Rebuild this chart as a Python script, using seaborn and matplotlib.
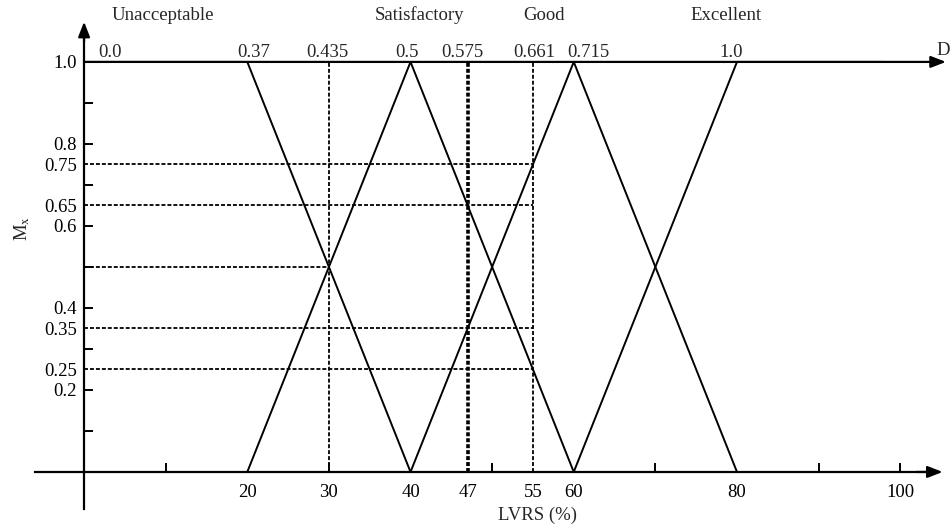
import matplotlib
matplotlib.use("Agg")
import matplotlib.pyplot as plt
import seaborn as sns
import pandas as pd

# ---------------- data ----------------
set_names = ["Unacceptable", "Satisfactory", "Good", "Excellent"]
unacceptable_x = [0, 20, 40]
unacceptable_m = [1, 1, 0]
satisfactory_x = [20, 40, 60]
satisfactory_m = [0, 1, 0]
good_x = [40, 60, 80]
good_m = [0, 1, 0]
excellent_x = [60, 80, 98]
excellent_m = [0, 1, 1]

cut_x = [30, 47, 55]                     # vertical dashed cuts (LVRS %)
level_m = [0.75, 0.65, 0.5, 0.35, 0.25]  # horizontal dashed membership levels
level_end_x = [55, 55, 30, 55, 55]

x_tick_labels = [20, 30, 40, 47, 55, 60, 80, 100]
x_minor_ticks = [10, 30, 50, 70, 90, 100]
y_tick_labels = [0.2, 0.25, 0.35, 0.4, 0.6, 0.65, 0.75, 0.8, 1.0]
y_minor_ticks = [0.1, 0.2, 0.3, 0.4, 0.5, 0.6, 0.7, 0.8, 0.9, 1.0]

d_labels = ["0.0", "0.37", "0.435", "0.5", "0.575", "0.661", "0.715", "1.0"]
d_label_pos = [3.2, 20.8, 29.8, 39.6, 46.3, 55.2, 61.8, 79.3]
set_label_pos = [9.7, 41.1, 56.4, 78.6]

# ---------------- style ----------------
sns.set_style("white")
plt.rcParams["font.family"] = ["Liberation Serif", "DejaVu Serif"]
plt.rcParams["mathtext.fontset"] = "stix"
FS = 13.5

fig = plt.figure(figsize=(9.5, 5.31), dpi=100)
ax = fig.add_axes([0, 0, 1, 1])
ax.set_xlim(-10.3, 106.1)
ax.set_ylim(-0.144, 1.151)

rows = []
for name, xs, ms in zip(set_names,
                        [unacceptable_x, satisfactory_x, good_x, excellent_x],
                        [unacceptable_m, satisfactory_m, good_m, excellent_m]):
    for xv, mv in zip(xs, ms):
        rows.append({"set": name, "LVRS": xv, "M": mv})
df = pd.DataFrame(rows)

sns.lineplot(data=df, x="LVRS", y="M", units="set", estimator=None,
             color="black", lw=1.4, sort=False, ax=ax, legend=False)

# dashed helper lines
for xv in cut_x:
    lw = 2.6 if xv == 47 else 1.3
    ax.plot([xv, xv], [0, 1], color="black", lw=lw,
            dashes=(2.2 * 1.3 / lw, 1.1 * 1.3 / lw))
for mv, xe in zip(level_m, level_end_x):
    ax.plot([0, xe], [mv, mv], color="black", lw=1.3, dashes=(2.2, 1.1))

# axes (spines through origin)
for s in ["top", "right"]:
    ax.spines[s].set_visible(False)
ax.spines["left"].set_position(("data", 0))
ax.spines["bottom"].set_position(("data", 0))
ax.spines["left"].set_bounds(-0.09, 1.07)
ax.spines["bottom"].set_bounds(-6, 103)
for s in ["left", "bottom"]:
    ax.spines[s].set_linewidth(1.6)
    ax.spines[s].set_color("black")

arrow = dict(arrowstyle="-|>,head_length=0.9,head_width=0.35",
             color="black", lw=1.6, shrinkA=0, shrinkB=0)
ax.annotate("", xy=(105.2, 0), xytext=(102, 0), arrowprops=arrow)
ax.annotate("", xy=(0, 1.098), xytext=(0, 1.05), arrowprops=arrow)
ax.annotate("", xy=(105.6, 1), xytext=(0, 1), arrowprops=arrow)

# ticks
ax.xaxis.remove_overlapping_locs = False
ax.yaxis.remove_overlapping_locs = False
ax.set_xticks(x_tick_labels)
ax.set_xticklabels([str(v) for v in x_tick_labels])
ax.set_xticks(x_minor_ticks, minor=True)
ax.set_yticks(y_tick_labels)
ax.set_yticklabels([f"{v:g}" if v != 1.0 else "1.0" for v in y_tick_labels])
ax.set_yticks(y_minor_ticks, minor=True)
ax.tick_params(axis="x", which="both", bottom=True, top=False)
ax.tick_params(axis="y", which="both", left=True, right=False)
ax.tick_params(axis="both", which="major", length=0, labelsize=FS,
               colors="black")
ax.tick_params(axis="x", which="major", pad=8.5)
ax.tick_params(axis="y", which="major", pad=5)
ax.tick_params(axis="both", which="minor", direction="in", length=6.5,
               width=1.4, colors="black")
ax.set_xlabel("")
ax.set_ylabel("")

# top D scale labels
for lab, xp in zip(d_labels, d_label_pos):
    ax.text(xp, 1.012, lab, ha="center", va="baseline", fontsize=FS)
ax.text(104.4, 1.016, "D", ha="left", va="baseline", fontsize=FS)

# linguistic set labels
for lab, xp in zip(set_names, set_label_pos):
    ax.text(xp, 1.102, lab, ha="center", va="baseline", fontsize=FS)

# axis titles
ax.text(-7.6, 0.595, r"M$_{\mathrm{x}}$", rotation=90, ha="center",
        va="center", fontsize=FS)
ax.text(55.5, -0.105, "LVRS (%)", ha="center", va="center", fontsize=FS)

fig.savefig("out.png", dpi=100)
